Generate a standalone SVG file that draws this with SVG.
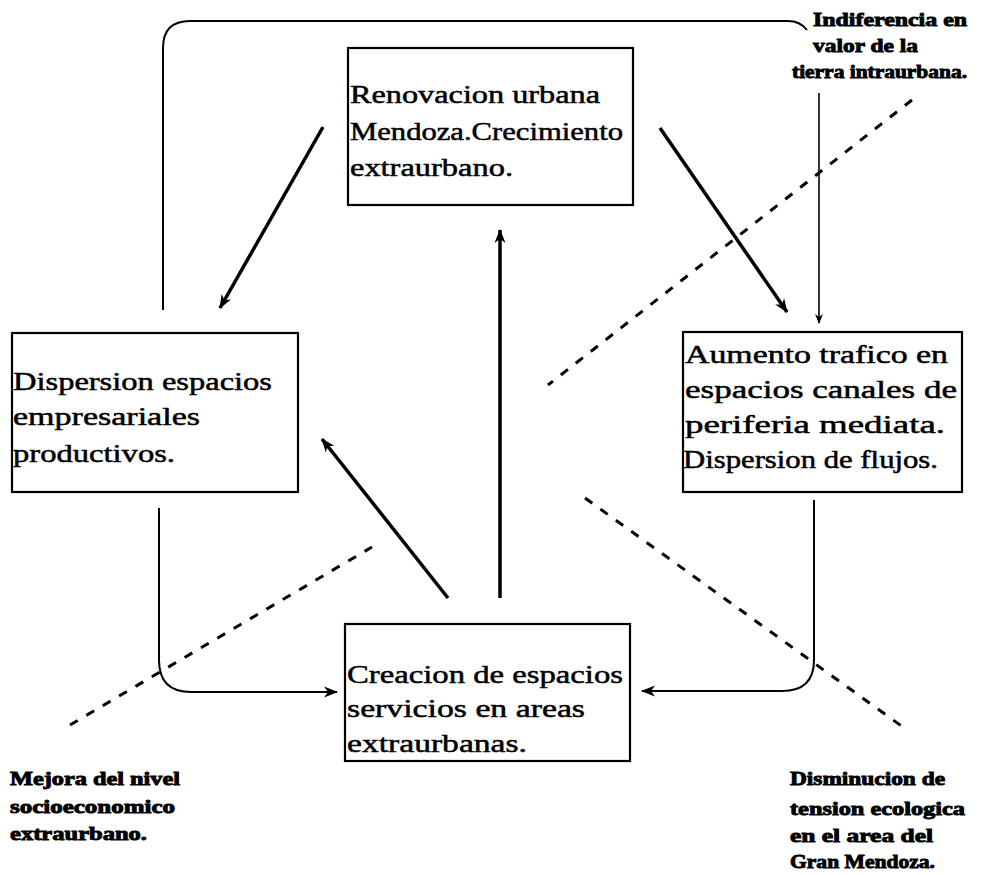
<svg xmlns="http://www.w3.org/2000/svg" width="990" height="875" viewBox="0 0 990 875">
<style>
.box{fill:none;stroke:#000;stroke-width:2.2}
.t{font-family:"Liberation Serif","DejaVu Serif",serif;font-size:25px;fill:#000;stroke:#000;stroke-width:0.5}
.n{font-family:"Liberation Serif","DejaVu Serif",serif;font-size:19px;font-weight:bold;fill:#000;stroke:#000;stroke-width:0.9}
.thick{fill:none;stroke:#000;stroke-width:3.5}
.mid{fill:none;stroke:#000;stroke-width:2}
.thin{fill:none;stroke:#000;stroke-width:1.6}
.dash{fill:none;stroke:#000;stroke-width:3;stroke-dasharray:9 10}
</style>
<defs>
<marker id="ah" markerWidth="10" markerHeight="10" refX="9" refY="5" orient="auto" markerUnits="userSpaceOnUse">
<path d="M0,1 L10,5 L0,9 L3,5 Z" fill="#000"/>
</marker>
<marker id="ahs" markerWidth="14" markerHeight="12" refX="13" refY="6" orient="auto" markerUnits="userSpaceOnUse">
<path d="M0,0.5 L14,6 L0,11.5 L4,6 Z" fill="#000"/>
</marker>
</defs>
<rect width="990" height="875" fill="#fff"/>

<g id="n-top">
<rect class="box" x="348" y="48" width="285" height="157"/>
<text class="t" x="350" y="103" textLength="250" lengthAdjust="spacingAndGlyphs">Renovacion urbana</text>
<text class="t" x="350" y="140" textLength="273" lengthAdjust="spacingAndGlyphs">Mendoza.Crecimiento</text>
<text class="t" x="350" y="176" textLength="163" lengthAdjust="spacingAndGlyphs">extraurbano.</text>
</g>

<g id="n-left">
<rect class="box" x="12" y="333" width="286" height="159"/>
<text class="t" x="13" y="390" textLength="259" lengthAdjust="spacingAndGlyphs">Dispersion espacios</text>
<text class="t" x="13" y="425" textLength="187" lengthAdjust="spacingAndGlyphs">empresariales</text>
<text class="t" x="13" y="462" textLength="162" lengthAdjust="spacingAndGlyphs">productivos.</text>
</g>

<g id="n-right">
<rect class="box" x="683" y="332" width="279" height="160"/>
<text class="t" x="685" y="363" textLength="263" lengthAdjust="spacingAndGlyphs">Aumento trafico en</text>
<text class="t" x="685" y="398" textLength="272" lengthAdjust="spacingAndGlyphs">espacios canales de</text>
<text class="t" x="685" y="433" textLength="260" lengthAdjust="spacingAndGlyphs">periferia mediata.</text>
<text class="t" x="683" y="468" textLength="255" lengthAdjust="spacingAndGlyphs">Dispersion de flujos.</text>
</g>

<g id="n-bottom">
<rect class="box" x="345" y="624" width="285" height="137"/>
<text class="t" x="347" y="683" textLength="276" lengthAdjust="spacingAndGlyphs">Creacion de espacios</text>
<text class="t" x="347" y="717" textLength="238" lengthAdjust="spacingAndGlyphs">servicios en areas</text>
<text class="t" x="347" y="752" textLength="180" lengthAdjust="spacingAndGlyphs">extraurbanas.</text>
</g>

<g id="notes">
<text class="n" x="813" y="26" textLength="154" lengthAdjust="spacingAndGlyphs">Indiferencia en</text>
<text class="n" x="813" y="52" textLength="105" lengthAdjust="spacingAndGlyphs">valor de la</text>
<text class="n" x="792" y="78" textLength="175" lengthAdjust="spacingAndGlyphs">tierra intraurbana.</text>
<text class="n" x="10" y="785" textLength="170" lengthAdjust="spacingAndGlyphs">Mejora del nivel</text>
<text class="n" x="10" y="813" textLength="165" lengthAdjust="spacingAndGlyphs">socioeconomico</text>
<text class="n" x="10" y="840" textLength="137" lengthAdjust="spacingAndGlyphs">extraurbano.</text>
<text class="n" x="790" y="785" textLength="155" lengthAdjust="spacingAndGlyphs">Disminucion de</text>
<text class="n" x="790" y="815" textLength="175" lengthAdjust="spacingAndGlyphs">tension ecologica</text>
<text class="n" x="790" y="842" textLength="143" lengthAdjust="spacingAndGlyphs">en el area del</text>
<text class="n" x="790" y="868" textLength="145" lengthAdjust="spacingAndGlyphs">Gran Mendoza.</text>
</g>

<g id="connectors">
<path class="mid" d="M163,310 L163,48 Q163,21 190,21 L788,21 Q800,21 807,30"/>
<line class="thin" x1="819" y1="93" x2="819" y2="323" marker-end="url(#ah)"/>
<line class="thick" x1="660" y1="128" x2="787" y2="312" marker-end="url(#ahs)"/>
<line class="thick" x1="323" y1="127" x2="220" y2="308" marker-end="url(#ahs)"/>
<line class="thick" x1="500" y1="598" x2="500" y2="230" marker-end="url(#ahs)"/>
<line class="thick" x1="448" y1="598" x2="322" y2="439" marker-end="url(#ahs)"/>
<path class="mid" d="M159,508 L159,660 Q159,692 191,692 L337,692" marker-end="url(#ahs)"/>
<path class="mid" d="M814,500 L814,660 Q814,691 782,691 L642,691" marker-end="url(#ahs)"/>
<line class="dash" x1="912" y1="100" x2="548" y2="385"/>
<line class="dash" x1="70" y1="725" x2="372" y2="547"/>
<line class="dash" x1="585" y1="498" x2="907" y2="730"/>
</g>
</svg>
